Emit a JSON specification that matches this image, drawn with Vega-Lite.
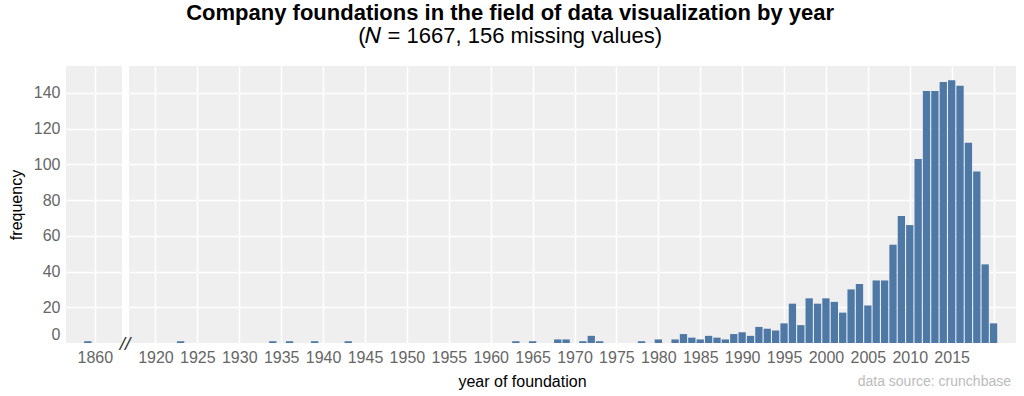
{
  "$schema": "https://vega.github.io/schema/vega-lite/v6.json",
  "autosize": {"type": "pad"},
  "padding": {"left": 8, "top": 2, "right": 0, "bottom": 0},
  "background": "white",
  "bounds": "flush",
  "spacing": 7,
  "config": {
    "font": "Liberation Sans",
    "view": {"fill": "#efefef", "stroke": null},
    "axis": {
      "gridColor": "white", "gridWidth": 1.5, "domain": false, "ticks": false,
      "labelColor": "#666666", "labelFontSize": 16, "labelFont": "Liberation Sans",
      "titleFontSize": 16, "titleFontWeight": "normal", "titleColor": "black", "titleFont": "Liberation Sans"
    }
  },
  "title": {
    "text": "Company foundations in the field of data visualization by year",
    "subtitle": "(𝑁 = 1667, 156 missing values)",
    "fontSize": 22, "subtitleFontSize": 22, "fontWeight": "bold",
    "color": "black", "subtitleColor": "black", "subtitleFont": "Liberation Sans",
    "anchor": "middle", "offset": 18, "subtitlePadding": 1, "dx": -2
  },
  "datasets": {
    "early": [{"year": 1859, "count": 1}],
    "main": [
      {"year": 1923, "count": 1}, {"year": 1934, "count": 1}, {"year": 1936, "count": 1},
      {"year": 1939, "count": 1}, {"year": 1943, "count": 1}, {"year": 1963, "count": 1},
      {"year": 1965, "count": 1}, {"year": 1968, "count": 2}, {"year": 1969, "count": 2},
      {"year": 1971, "count": 1}, {"year": 1972, "count": 4}, {"year": 1973, "count": 1},
      {"year": 1978, "count": 1}, {"year": 1980, "count": 2}, {"year": 1982, "count": 2},
      {"year": 1983, "count": 5}, {"year": 1984, "count": 3}, {"year": 1985, "count": 2},
      {"year": 1986, "count": 4}, {"year": 1987, "count": 3}, {"year": 1988, "count": 2},
      {"year": 1989, "count": 5}, {"year": 1990, "count": 6}, {"year": 1991, "count": 4},
      {"year": 1992, "count": 9}, {"year": 1993, "count": 8}, {"year": 1994, "count": 7},
      {"year": 1995, "count": 11}, {"year": 1996, "count": 22}, {"year": 1997, "count": 10},
      {"year": 1998, "count": 25}, {"year": 1999, "count": 22}, {"year": 2000, "count": 25},
      {"year": 2001, "count": 23}, {"year": 2002, "count": 17}, {"year": 2003, "count": 30},
      {"year": 2004, "count": 33}, {"year": 2005, "count": 21}, {"year": 2006, "count": 35},
      {"year": 2007, "count": 35}, {"year": 2008, "count": 55}, {"year": 2009, "count": 71},
      {"year": 2010, "count": 66}, {"year": 2011, "count": 103}, {"year": 2012, "count": 141},
      {"year": 2013, "count": 141}, {"year": 2014, "count": 146}, {"year": 2015, "count": 147},
      {"year": 2016, "count": 144}, {"year": 2017, "count": 112}, {"year": 2018, "count": 96},
      {"year": 2019, "count": 44}, {"year": 2020, "count": 11}
    ]
  },
  "hconcat": [
    {
      "width": 56,
      "height": 277,
      "data": {"name": "early"},
      "mark": {"type": "bar", "color": "#4e79a7", "width": 7.3},
      "encoding": {
        "x": {
          "field": "year", "type": "quantitative",
          "scale": {"domain": [1856.58, 1863.19], "nice": false, "zero": false},
          "axis": {"values": [1860], "format": "d", "title": null, "labelPadding": 6, "grid": true}
        },
        "y": {
          "field": "count", "type": "quantitative",
          "scale": {"domain": [0, 155], "nice": false},
          "axis": {
            "values": [0, 20, 40, 60, 80, 100, 120, 140],
            "title": "frequency", "labelPadding": 6, "titlePadding": 9,
            "labelOffset": {"condition": {"test": "datum.value === 0", "value": -8.5}, "value": 0},
            "gridOpacity": {"condition": {"test": "datum.value === 0", "value": 0}, "value": 1}
          }
        }
      }
    },
    {
      "width": 887,
      "height": 277,
      "encoding": {
        "x": {
          "type": "quantitative",
          "scale": {"domain": [1917.44, 2022.08], "nice": false, "zero": false},
          "axis": {
            "values": [1920, 1925, 1930, 1935, 1940, 1945, 1950, 1955, 1960, 1965, 1970, 1975, 1980, 1985, 1990, 1995, 2000, 2005, 2010, 2015, 2020],
            "format": "d", "labelExpr": "datum.value >= 2020 ? '' : datum.label",
            "title": "year of foundation", "titleX": 393, "titlePadding": 8, "labelPadding": 6, "grid": true
          }
        },
        "y": {
          "type": "quantitative",
          "scale": {"domain": [0, 155], "nice": false},
          "axis": {
            "values": [0, 20, 40, 60, 80, 100, 120, 140],
            "labels": false, "title": null,
            "gridOpacity": {"condition": {"test": "datum.value === 0", "value": 0}, "value": 1}
          }
        }
      },
      "layer": [
        {
          "data": {"name": "main"},
          "mark": {"type": "bar", "color": "#4e79a7", "width": 7.3},
          "encoding": {
            "x": {"field": "year", "type": "quantitative"},
            "y": {"field": "count", "type": "quantitative"}
          }
        },
        {
          "data": {"values": [{"label": "//"}]},
          "mark": {"type": "text", "fontSize": 19, "fontStyle": "italic", "color": "#333333", "dx": -9, "dy": 1, "baseline": "middle", "align": "center"},
          "encoding": {
            "x": {"datum": 1917.44, "type": "quantitative"},
            "y": {"datum": 0, "type": "quantitative"},
            "text": {"field": "label"}
          }
        },
        {
          "data": {"values": [{"label": "data source: crunchbase"}]},
          "mark": {"type": "text", "fontSize": 14, "color": "#bbbbbb", "baseline": "middle", "align": "right"},
          "encoding": {
            "x": {"datum": 2022.08, "type": "quantitative"},
            "y": {"datum": -22, "type": "quantitative"},
            "text": {"field": "label"}
          }
        }
      ]
    }
  ]
}
